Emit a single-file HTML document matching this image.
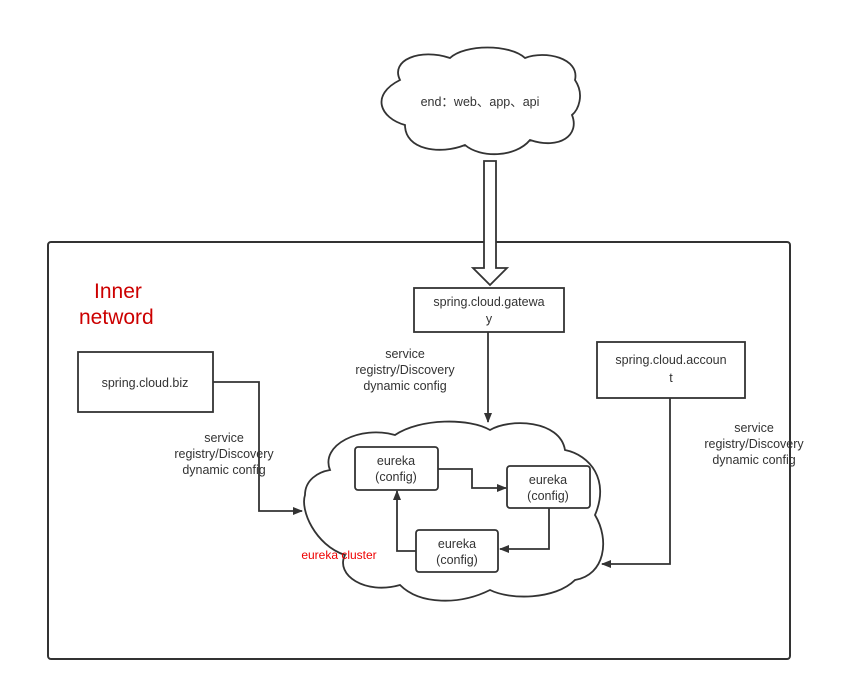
<!DOCTYPE html>
<html><head><meta charset="utf-8"><style>
body{margin:0;background:#fff}
text{font-family:"Liberation Sans","Noto Sans CJK SC",sans-serif;font-size:12.5px;fill:#333}
</style></head><body>
<svg width="867" height="692" viewBox="0 0 867 692" xmlns="http://www.w3.org/2000/svg">
<defs><marker id="a" markerWidth="10" markerHeight="10" refX="9" refY="5" orient="auto" markerUnits="userSpaceOnUse"><path d="M0,1 L10,5 L0,9 Z" fill="#333"/></marker></defs>
<rect x="48" y="242" width="742" height="417" rx="3" fill="none" stroke="#333" stroke-width="2"/>
<!-- top cloud -->
<path d="M400,80 C390,60 420,48 450,58 C465,44 510,44 525,58 C545,50 580,58 575,80 C585,95 578,110 572,115 C580,135 560,150 530,140 C515,158 480,158 465,145 C440,155 405,150 405,125 C380,118 370,95 400,80 Z" fill="#fff" stroke="#333" stroke-width="1.8"/>
<text x="480" y="106" text-anchor="middle">end：web、app、api</text>
<!-- block arrow -->
<path d="M484,161 L496,161 L496,268 L507,268 L490,285 L473,268 L484,268 Z" fill="#fff" stroke="#333" stroke-width="1.8"/>
<!-- big cloud -->
<path d="M330,470 C320,445 360,425 395,435 C420,418 470,418 490,430 C510,418 560,420 565,450 C590,455 610,480 595,515 C610,540 605,575 575,580 C555,600 510,600 490,590 C460,605 420,605 400,585 C365,595 335,575 345,555 C315,545 300,510 305,495 C305,480 318,472 330,470 Z" fill="#fff" stroke="#333" stroke-width="1.8"/>
<text x="339" y="559" text-anchor="middle" style="fill:#e00;font-size:12px">eureka cluster</text>
<g fill="#fff" stroke="#333" stroke-width="1.8">
<rect x="414" y="288" width="150" height="44"/>
<rect x="78" y="352" width="135" height="60"/>
<rect x="597" y="342" width="148" height="56"/>
<rect x="355" y="447" width="83" height="43" rx="3"/>
<rect x="507" y="466" width="83" height="42" rx="3"/>
<rect x="416" y="530" width="82" height="42" rx="3"/>
</g>
<text x="489" y="306" text-anchor="middle">spring.cloud.gatewa</text>
<text x="489" y="323" text-anchor="middle">y</text>
<text x="145" y="387" text-anchor="middle">spring.cloud.biz</text>
<text x="671" y="364" text-anchor="middle">spring.cloud.accoun</text>
<text x="671" y="382" text-anchor="middle">t</text>
<text x="396" y="465" text-anchor="middle">eureka</text><text x="396" y="481" text-anchor="middle">(config)</text>
<text x="548" y="484" text-anchor="middle">eureka</text><text x="548" y="500" text-anchor="middle">(config)</text>
<text x="457" y="548" text-anchor="middle">eureka</text><text x="457" y="564" text-anchor="middle">(config)</text>
<g fill="none" stroke="#333" stroke-width="1.8" marker-end="url(#a)">
<path d="M488,332 L488,422"/>
<path d="M213,382 L259,382 L259,511 L302,511"/>
<path d="M670,398 L670,564 L602,564"/>
<path d="M438,469 L472,469 L472,488 L506,488"/>
<path d="M549,508 L549,549 L500,549"/>
<path d="M416,551 L397,551 L397,491"/>
</g>
<text x="405" y="358" text-anchor="middle">service</text>
<text x="405" y="374" text-anchor="middle">registry/Discovery</text>
<text x="405" y="390" text-anchor="middle">dynamic config</text>
<text x="224" y="442" text-anchor="middle">service</text>
<text x="224" y="458" text-anchor="middle">registry/Discovery</text>
<text x="224" y="474" text-anchor="middle">dynamic config</text>
<text x="754" y="432" text-anchor="middle">service</text>
<text x="754" y="448" text-anchor="middle">registry/Discovery</text>
<text x="754" y="464" text-anchor="middle">dynamic config</text>
<text x="94" y="298" style="fill:#c00;font-size:21px">Inner</text>
<text x="79" y="324" style="fill:#c00;font-size:21px">netword</text>
</svg>
</body></html>
